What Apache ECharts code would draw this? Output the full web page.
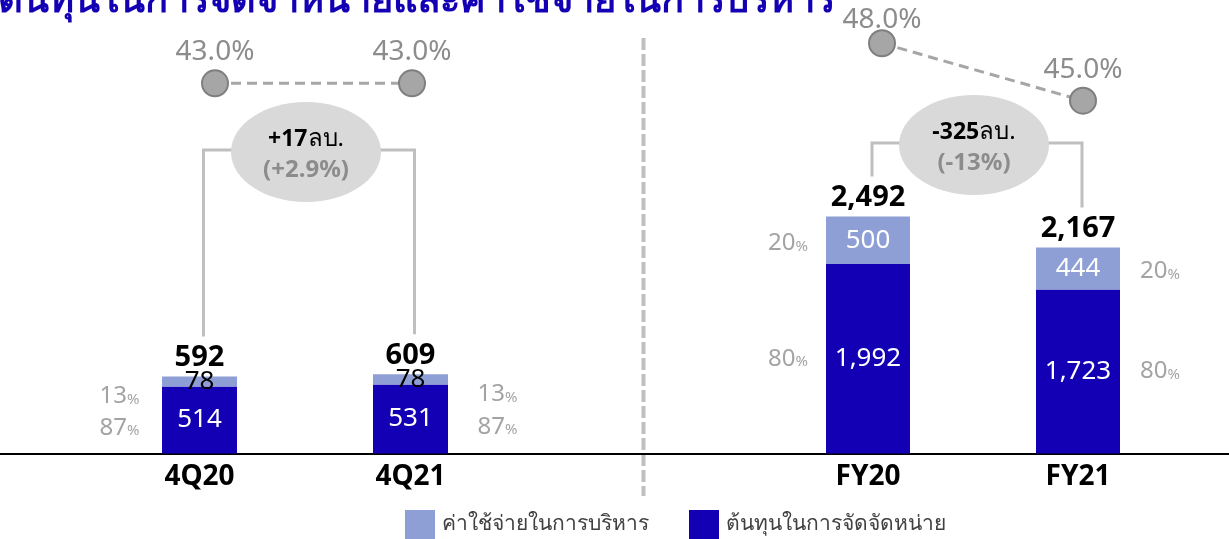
<!DOCTYPE html>
<html>
<head>
<meta charset="utf-8">
<title>ต้นทุนในการจัดจำหน่ายและค่าใช้จ่ายในการบริหาร</title>
<script src="https://cdn.jsdelivr.net/npm/echarts@6/dist/echarts.min.js"></script>
<style>
	html, body { margin: 0; padding: 0; background: #fff; }
	#chart { width: 1229px; height: 539px; }
</style>
</head>
<body>
<div id="chart"></div>
<script>
var titleText = 'ต้นทุนในการจัดจำหน่ายและค่าใช้จ่ายในการบริหาร';
var adminName = 'ค่าใช้จ่ายในการบริหาร';
var distName = 'ต้นทุนในการจัดจัดหน่าย';

// quarterly panel
var categoriesQ = ['4Q20', '4Q21'];
var adminQ = [78, 78];
var distQ = [514, 531];
var ratioQ = [43.0, 43.0];

// full year panel
var categoriesFY = ['FY20', 'FY21'];
var adminFY = [500, 444];
var distFY = [1992, 1723];
var ratioFY = [48.0, 45.0];

var DARK = '#1400B4';
var LIGHT = '#8E9FD5';
var GREY = '#8C8C8C';
var FONT = '"Noto Sans", "Open Sans", sans-serif';

function sum(a, b) {
	return a.map(function (v, i) { return v + b[i]; });
}
function fmt(v) {
	return v.toLocaleString('en-US');
}
var totalQ = sum(adminQ, distQ);
var totalFY = sum(adminFY, distFY);

// share labels (%), placed at the middle of each segment
function pctData(cats, admin, dist) {
	var out = [];
	cats.forEach(function (c, i) {
		var t = admin[i] + dist[i];
		out.push({ value: [c, dist[i] + admin[i] / 2], pct: Math.round(admin[i] / t * 100), part: 'a', idx: i });
		out.push({ value: [c, dist[i] / 2], pct: Math.round(dist[i] / t * 100), part: 'd', idx: i });
	});
	return out;
}

var chart = echarts.init(document.getElementById('chart'));

function pctSeries(xi, data, offA, offD, distL, distR) {
	return {
		type: 'scatter', xAxisIndex: xi, yAxisIndex: xi, symbolSize: 0, silent: true,
		data: data.map(function (d) {
			var first = d.idx === 0;
			return {
				value: d.value, pct: d.pct,
				label: {
					position: first ? 'left' : 'right',
					distance: first ? distL : distR,
					offset: [0, d.part === 'a' ? offA : offD]
				}
			};
		}),
		label: {
			show: true,
			formatter: function (p) { return '{n|' + p.data.pct + '}{p|%}'; },
			rich: {
				n: { fontSize: 24, color: GREY, fontFamily: FONT },
				p: { fontSize: 15, color: GREY, fontFamily: FONT, padding: [6, 0, 0, 0] }
			}
		}
	};
}

function barSeries(xi, name, data, color, labelColor, width) {
	return {
		name: name, type: 'bar', stack: 's' + xi, xAxisIndex: xi, yAxisIndex: xi,
		barWidth: width, data: data,
		itemStyle: { color: color },
		label: {
			show: true, position: 'inside', color: labelColor,
			fontSize: 26, fontFamily: FONT,
			formatter: function (p) { return fmt(p.value); }
		}
	};
}

function totalSeries(xi, totals, width) {
	return {
		type: 'bar', stack: 's' + xi, xAxisIndex: xi, yAxisIndex: xi,
		barWidth: width, data: totals.map(function () { return 0; }),
		itemStyle: { color: 'transparent' },
		label: {
			show: true, position: 'top', distance: 4,
			color: '#000', fontSize: 29, fontWeight: 'bold', fontFamily: FONT,
			formatter: function (p) { return fmt(totals[p.dataIndex]); }
		}
	};
}

// labelDrop: pushes a label down when it would run off the top of the page
function ratioSeries(xi, data, labelDrop) {
	return {
		type: 'line', xAxisIndex: xi, yAxisIndex: xi,
		data: data.map(function (v, i) {
			return { value: v, label: { offset: [0, labelDrop[i] || 0] } };
		}),
		symbol: 'circle', symbolSize: 26,
		lineStyle: { color: '#A6A6A6', width: 3, type: [10, 6] },
		itemStyle: { color: '#A6A6A6', borderColor: '#7F7F7F', borderWidth: 2 },
		label: {
			show: true, position: 'top', distance: 3,
			color: GREY, fontSize: 28, fontFamily: FONT,
			formatter: function (p) { return p.value.toFixed(1) + '%'; }
		},
		z: 3
	};
}

var catAxisLabel = { show: true, color: '#000', fontSize: 28, fontWeight: 'bold', fontFamily: FONT, margin: 10 };

var option = {
	backgroundColor: '#fff',
	animation: false,
	legend: {
		data: [adminName, distName],
		left: 400, top: 505,
		icon: 'rect', itemWidth: 30, itemHeight: 29, itemGap: 40,
		textStyle: { fontSize: 21, color: '#404040', fontFamily: FONT, padding: [0, 0, 0, 2] }
	},
	grid: [
		{ left: 94, width: 422, top: 54, height: 399.5 },
		{ left: 763, width: 420, top: 54, height: 399.5 },
		{ left: 116.5, width: 394, top: 33.3, height: 100 },
		{ left: 781.5, width: 402, top: 5, height: 191.3 },
		{ left: 0, right: 0, top: 54, height: 399.5 }
	],
	xAxis: [
		{ type: 'category', gridIndex: 0, data: categoriesQ, axisLine: { show: false }, axisTick: { show: false }, axisLabel: catAxisLabel },
		{ type: 'category', gridIndex: 1, data: categoriesFY, axisLine: { show: false }, axisTick: { show: false }, axisLabel: catAxisLabel },
		{ type: 'category', gridIndex: 2, data: categoriesQ, show: false },
		{ type: 'category', gridIndex: 3, data: categoriesFY, show: false },
		{ type: 'category', gridIndex: 4, data: [], axisLine: { lineStyle: { color: '#000', width: 2 } }, axisTick: { show: false }, axisLabel: { show: false } }
	],
	yAxis: [
		{ type: 'value', gridIndex: 0, min: 0, max: 3070, show: false },
		{ type: 'value', gridIndex: 1, min: 0, max: 4200, show: false },
		{ type: 'value', gridIndex: 2, min: 40, max: 46, show: false },
		{ type: 'value', gridIndex: 3, min: 40, max: 50, show: false },
		{ type: 'value', gridIndex: 4, min: 0, max: 1, show: false }
	],
	series: [
		barSeries(0, distName, distQ, DARK, '#fff', 75),
		barSeries(0, adminName, adminQ, LIGHT, '#000', 75),
		totalSeries(0, totalQ, 75),
		barSeries(1, distName, distFY, DARK, '#fff', 84),
		barSeries(1, adminName, adminFY, LIGHT, '#fff', 84),
		totalSeries(1, totalFY, 84),
		ratioSeries(2, ratioQ, []),
		ratioSeries(3, ratioFY, [8]),
		pctSeries(0, pctData(categoriesQ, adminQ, distQ), 15, 8, 60, 67),
		pctSeries(1, pctData(categoriesFY, adminFY, distFY), 3, 0, 60, 62)
	]
};
chart.setOption(option);

// change brackets between the two bars of each panel
function bracket(seriesIdx, cats, totals, topY, decimals) {
	var p0 = chart.convertToPixel({ seriesIndex: seriesIdx }, [cats[0], totals[0]]);
	var p1 = chart.convertToPixel({ seriesIndex: seriesIdx }, [cats[1], totals[1]]);
	var diff = totals[1] - totals[0];
	var pct = diff / totals[0] * 100;
	var sign = diff > 0 ? '+' : '';
	var cx = (p0[0] + p1[0]) / 2;
	var lineStyle = { stroke: '#BFBFBF', lineWidth: 3, fill: null };
	return [
		{
			type: 'polyline', silent: true,
			shape: { points: [[p0[0] + 4, p0[1] - 40], [p0[0] + 4, topY], [p1[0] + 4, topY], [p1[0] + 4, p1[1] - 40]] },
			style: lineStyle
		},
		{
			type: 'ellipse', silent: true,
			shape: { cx: cx + 1, cy: topY + 2, rx: 75, ry: 50 },
			style: { fill: '#D9D9D9' }
		},
		{
			type: 'text', silent: true, x: cx + 1, y: topY + 5,
			style: {
				text: '{b|' + sign + fmt(diff) + '}{n|ลบ.}\n{g|(' + sign + pct.toFixed(decimals) + '%)}',
				align: 'center', verticalAlign: 'middle',
				rich: {
					b: { fontSize: 23, fontWeight: 'bold', fill: '#000', fontFamily: FONT, lineHeight: 31 },
					n: { fontSize: 24, fill: '#000', fontFamily: FONT, lineHeight: 31 },
					g: { fontSize: 24, fontWeight: 'bold', fill: GREY, fontFamily: FONT, lineHeight: 31 }
				}
			}
		}
	];
}

var graphics = [
	{
		type: 'text', silent: true, x: -2, y: 1,
		style: { text: titleText, fontSize: 38, fontWeight: 'bold', fill: DARK, fontFamily: FONT, verticalAlign: 'middle' }
	},
	{
		type: 'line', silent: true,
		shape: { x1: 643.5, y1: 38, x2: 643.5, y2: 496 },
		style: { stroke: '#BFBFBF', lineWidth: 4, lineDash: [12, 4] }
	}
].concat(bracket(0, categoriesQ, totalQ, 150, 1), bracket(3, categoriesFY, totalFY, 143, 0));

chart.setOption({ graphic: graphics });
</script>
</body>
</html>
